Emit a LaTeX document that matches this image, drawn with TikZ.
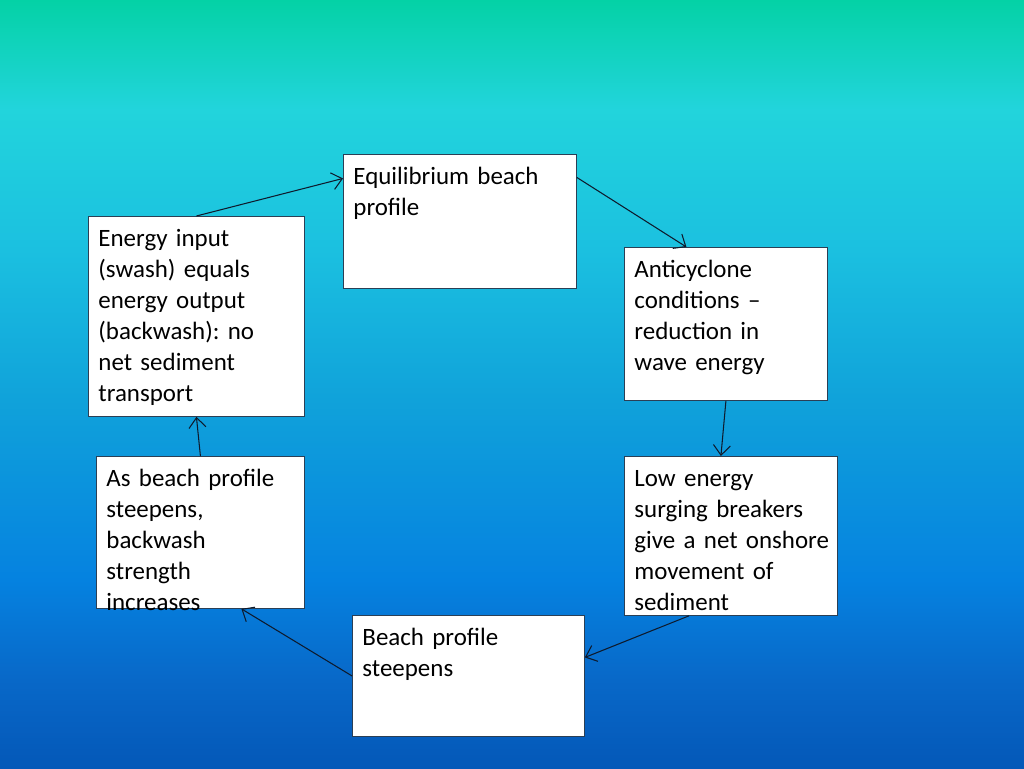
\documentclass[tikz,border=0pt]{standalone}
\usepackage{fontspec}
\setmainfont{Carlito}
\usepackage{xcolor}
\usepackage{tikz}
\usetikzlibrary{arrows.meta}

\definecolor{bgA}{HTML}{04D2A6}
\definecolor{bgB}{HTML}{22D4DC}
\definecolor{bgC}{HTML}{1BC0E0}
\definecolor{bgD}{HTML}{10A2DA}
\definecolor{bgE}{HTML}{0582E0}
\definecolor{bgF}{HTML}{0868C8}
\definecolor{bgG}{HTML}{0458B8}
\definecolor{edge}{HTML}{2B3F55}
\definecolor{link}{HTML}{0E1A2C}

\newcommand{\stagefont}{\fontsize{14.2pt}{17.6pt}\selectfont\frenchspacing\hyphenpenalty=10000\relax}

\tikzset{
  stage/.style={draw=edge, line width=0.5pt, fill=white, anchor=north west,
    inner xsep=0.2cm, inner ysep=0.2cm, align=left, text height=0.41cm, font=\stagefont},
  flow/.style={draw=link, line width=0.6pt, -{Straight Barb[length=2mm,width=3.4mm]}}
}

\begin{document}
\begin{tikzpicture}[x=0.02cm,y=-0.02cm]
    % background
    \shade[top color=bgA, bottom color=bgB] (0,0) rectangle (1024,110);
    \shade[top color=bgB, bottom color=bgC] (0,110) rectangle (1024,250);
    \shade[top color=bgC, bottom color=bgD] (0,250) rectangle (1024,400);
    \shade[top color=bgD, bottom color=bgE] (0,400) rectangle (1024,580);
    \shade[top color=bgE, bottom color=bgF] (0,580) rectangle (1024,680);
    \shade[top color=bgF, bottom color=bgG] (0,680) rectangle (1024,768);
    \useasboundingbox (0,0) rectangle (1024,768);

    \node[stage, text width=4.26cm, text depth=1.87cm] (eq) at (343,154)
      {Equilibrium beach\\profile};
    \node[stage, text width=3.92cm, text depth=3.19cm] (energy) at (88,216)
      {Energy input\\(swash) equals\\energy output\\(backwash): no\\net sediment\\transport};
    \node[stage, text width=3.66cm, text depth=2.25cm] (anti) at (624,247)
      {Anticyclone\\conditions --\\reduction in\\wave energy};
    \node[stage, text width=3.86cm, text depth=2.37cm] (low) at (624,456)
      {Low energy\\surging breakers\\give~a~net~onshore\\movement of\\sediment};
    \node[stage, text width=4.24cm, text depth=1.61cm] (steep) at (352,615)
      {Beach profile\\steepens};
    \node[stage, text width=3.76cm, text depth=2.23cm] (asbeach) at (96,456)
      {As beach profile\\steepens,\\backwash\\strength\\increases};

    \draw[flow] (energy.north) -- ([yshift=0.86cm]eq.west);
    \draw[flow] ([yshift=0.88cm]eq.east) -- ([xshift=-0.79cm]anti.north);
    \draw[flow] (anti.south) -- ([xshift=-0.2cm]low.north);
    \draw[flow] ([xshift=-0.84cm]low.south) -- ([yshift=0.37cm]steep.east);
    \draw[flow] (steep.west) -- ([xshift=0.82cm]asbeach.south);
    \draw[flow] (asbeach.north) -- (energy.south);
\end{tikzpicture}
\end{document}
